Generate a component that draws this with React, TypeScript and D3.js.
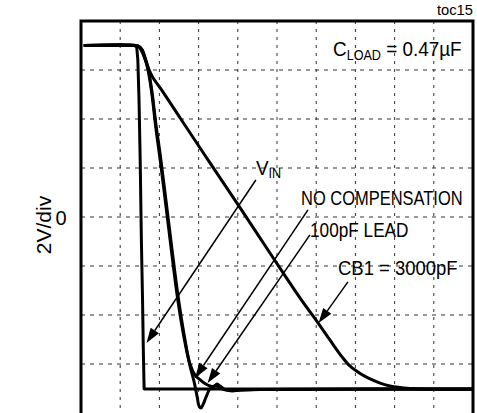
import React from "react";
import * as d3 from "d3";

// time in divisions (10 div across), voltage in volts (2V/div, 0 at centre)
const vinT = [0.07, 1.35, 1.42, 1.45, 1.48, 1.51, 1.54, 1.57, 1.59, 1.61, 10];
const vinV = [7.0, 7.0, 6.96, 6.41, 4.78, 2.33, -0.94, -3.39, -5.43, -7.02, -7.02];

const noCompT = [0.07, 1.4, 1.48, 1.56, 1.63, 1.71, 1.81, 1.91, 2.02, 2.17, 2.32, 2.47, 2.63, 2.78, 2.88, 2.96, 3.01, 3.06, 3.11, 3.19, 3.27, 3.34, 3.44, 3.55, 3.7, 4.57, 10];
const noCompV = [7.0, 7.0, 6.96, 6.82, 6.49, 6.0, 5.0, 3.63, 2.33, 0.41, -1.55, -3.39, -4.94, -6.08, -6.69, -7.31, -7.71, -7.8, -7.67, -7.35, -7.06, -6.94, -6.9, -6.98, -7.06, -7.04, -7.02];

const leadT = [0.07, 1.4, 1.48, 1.56, 1.63, 1.71, 1.81, 1.91, 2.02, 2.17, 2.32, 2.47, 2.63, 2.78, 2.91, 3.04, 3.16, 3.29, 3.39, 3.47, 3.55, 3.65, 3.85, 4.06, 4.57, 10];
const leadV = [7.0, 7.0, 6.96, 6.82, 6.53, 6.08, 5.12, 3.8, 2.55, 0.65, -1.3, -3.16, -4.8, -6.0, -6.45, -6.65, -6.8, -6.9, -6.92, -6.82, -6.9, -7.02, -7.1, -7.06, -7.04, -7.02];

const cb1T = [0.07, 1.4, 1.48, 1.56, 1.66, 1.76, 1.84, 2.02, 2.53, 3.24, 4.06, 4.82, 5.59, 6.05, 6.35, 6.66, 6.86, 7.12, 7.32, 7.63, 7.88, 8.39, 8.98, 10];
const cb1V = [7.0, 7.0, 6.94, 6.73, 6.33, 5.92, 5.67, 5.27, 4.04, 2.33, 0.37, -1.47, -3.31, -4.33, -5.02, -5.71, -6.08, -6.39, -6.57, -6.78, -6.9, -7.0, -7.03, -7.04];

// arrow annotations: [startT, startV, endT, endV]
const arrowVin = [4.46, 1.51, 1.67, -5.14];
const arrowNoComp = [5.79, 0.29, 2.91, -6.57];
const arrowLead = [5.84, -0.73, 3.23, -6.78];
const arrowCb1 = [6.81, -2.65, 6.06, -4.33];

const xDivs = [0, 1, 2, 3, 4, 5, 6, 7, 8, 9, 10];
const yDivs = [-8, -6, -4, -2, 0, 2, 4, 6, 8];

const labelNoComp = "NO COMPENSATION";
const labelLead = "100pF LEAD";
const labelCb1 = "CB1 = 3000pF";
const labelLoad = " = 0.47µF";
const yAxisLabel = "2V/div";
const yZero = "0";
const tocLabel = "toc15";

const W = 477;
const H = 413;
const left = 81;
const right = 473;
const top = 21;
const bottom = 413;

const FONT = "'Liberation Sans', Arial, Helvetica, sans-serif";

export default function App() {
  const x = d3.scaleLinear().domain([0, 10]).range([left, right]);
  const y = d3.scaleLinear().domain([-8, 8]).range([bottom, top]);
  const line = d3
    .line<[number, number]>()
    .x((d) => x(d[0]))
    .y((d) => y(d[1]))
    .curve(d3.curveCatmullRom.alpha(0.5));
  const lineStraight = d3
    .line<[number, number]>()
    .x((d) => x(d[0]))
    .y((d) => y(d[1]));

  const mk = (t: number[], v: number[]) => t.map((tt, i) => [tt, v[i]] as [number, number]);

  const arrow = (a: number[], key: string) => {
    const x1 = x(a[0]);
    const y1 = y(a[1]);
    const x2 = x(a[2]);
    const y2 = y(a[3]);
    const ang = Math.atan2(y2 - y1, x2 - x1);
    const L = 15;
    const hw = 5;
    const bx = x2 - L * Math.cos(ang);
    const by = y2 - L * Math.sin(ang);
    const px = -Math.sin(ang) * hw;
    const py = Math.cos(ang) * hw;
    return (
      <g key={key}>
        <line x1={x1} y1={y1} x2={bx} y2={by} stroke="#000" strokeWidth={1.5} />
        <path d={`M${x2},${y2}L${bx + px},${by + py}L${bx - px},${by - py}Z`} fill="#000" />
      </g>
    );
  };

  return (
    <svg
      width={W}
      height={H}
      style={{ position: "absolute", left: 0, top: 0, background: "#fff" }}
      fontFamily={FONT}
    >
      <rect x={0} y={0} width={W} height={H} fill="#fff" />
      {xDivs.slice(1, -1).map((d) => (
        <line
          key={"vx" + d}
          x1={x(d)}
          x2={x(d)}
          y1={top}
          y2={H}
          stroke="#333"
          strokeWidth={1}
          strokeDasharray="3,5"
        />
      ))}
      {yDivs.slice(1, -1).map((d) => (
        <line
          key={"hy" + d}
          x1={left}
          x2={right}
          y1={y(d)}
          y2={y(d)}
          stroke="#333"
          strokeWidth={1}
          strokeDasharray="4,5"
        />
      ))}
      <path
        d={`M${left},${H + 5}L${left},${top}L${right},${top}L${right},${H + 5}`}
        fill="none"
        stroke="#000"
        strokeWidth={3}
      />
      <path d={lineStraight(mk(vinT, vinV)) || ""} fill="none" stroke="#000" strokeWidth={3} strokeLinejoin="round" />
      <path d={line(mk(cb1T, cb1V)) || ""} fill="none" stroke="#000" strokeWidth={3} strokeLinejoin="round" />
      <path d={line(mk(leadT, leadV)) || ""} fill="none" stroke="#000" strokeWidth={3} strokeLinejoin="round" />
      <path d={line(mk(noCompT, noCompV)) || ""} fill="none" stroke="#000" strokeWidth={3} strokeLinejoin="round" />

      {arrow(arrowVin, "a1")}
      {arrow(arrowNoComp, "a2")}
      {arrow(arrowLead, "a3")}
      {arrow(arrowCb1, "a4")}

      <g transform="translate(437,15) scale(1.05,1)">
        <text x={0} y={0} fontSize={14}>{tocLabel}</text>
      </g>
      <g transform="translate(333,56) scale(0.9,1)">
        <text x={0} y={0} fontSize={21}>
          C<tspan fontSize={14} dy={4}>LOAD</tspan>
          <tspan dy={-4}>{labelLoad}</tspan>
        </text>
      </g>
      <g transform="translate(256,175) scale(0.9,1)">
        <text x={0} y={0} fontSize={21}>
          V<tspan fontSize={14} dy={3}>IN</tspan>
        </text>
      </g>
      <g transform="translate(301,205) scale(0.785,1)">
        <text x={0} y={0} fontSize={21}>{labelNoComp}</text>
      </g>
      <g transform="translate(310,237) scale(0.82,1)">
        <text x={0} y={0} fontSize={21}>{labelLead}</text>
      </g>
      <g transform="translate(338,275) scale(0.88,1)">
        <text x={0} y={0} fontSize={21}>{labelCb1}</text>
      </g>
      <text x={61} y={y(0) + 8} textAnchor="middle" fontSize={20}>{yZero}</text>
      <g transform={`translate(51,${y(0) + 8}) rotate(-90) scale(1.05,1)`}>
        <text x={0} y={0} textAnchor="middle" fontSize={20}>{yAxisLabel}</text>
      </g>
    </svg>
  );
}
